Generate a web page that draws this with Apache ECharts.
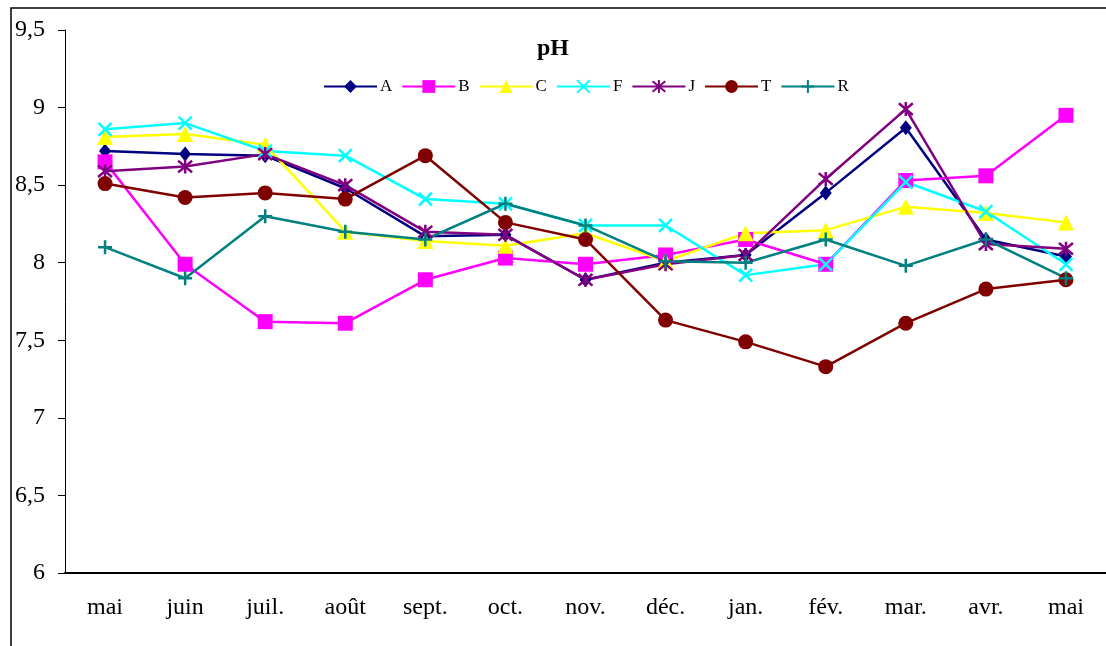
<!DOCTYPE html>
<html>
<head>
<meta charset="utf-8">
<script src="https://cdn.jsdelivr.net/npm/echarts@6/dist/echarts.min.js"></script>
<style>
  html, body { margin: 0; padding: 0; background: #fff; }
  #chart { width: 1106px; height: 646px; }
</style>
</head>
<body>
<div id="chart"></div>
<script>
// months, mai -> mai
const months = ['mai', 'juin', 'juil.', 'août', 'sept.', 'oct.', 'nov.', 'déc.', 'jan.', 'fév.', 'mar.', 'avr.', 'mai']
const yTicks = [6, 6.5, 7, 7.5, 8, 8.5, 9, 9.5]

const phA = [8.72, 8.70, 8.69, 8.48, 8.17, 8.18, 7.89, 8.00, 8.05, 8.45, 8.87, 8.15, 8.04]
const phB = [8.65, 7.99, 7.62, 7.61, 7.89, 8.03, 7.99, 8.05, 8.15, 7.99, 8.53, 8.56, 8.95]
const phC = [8.81, 8.83, 8.76, 8.20, 8.14, 8.11, 8.19, 8.01, 8.19, 8.21, 8.36, 8.32, 8.26]
const phF = [8.86, 8.90, 8.72, 8.69, 8.41, 8.38, 8.24, 8.24, 7.92, 7.99, 8.52, 8.33, 7.99]
const phJ = [8.59, 8.62, 8.70, 8.50, 8.20, 8.18, 7.89, 7.99, 8.05, 8.54, 8.99, 8.12, 8.09]
const phT = [8.51, 8.42, 8.45, 8.41, 8.69, 8.26, 8.15, 7.63, 7.49, 7.33, 7.61, 7.83, 7.89]
const phR = [8.10, 7.90, 8.30, 8.20, 8.15, 8.38, 8.24, 8.01, 8.00, 8.15, 7.98, 8.15, 7.90]

const serif = 'Liberation Serif'
const SYM_X = 'path://M0,0L10,10M10,0L0,10'
const SYM_PLUS = 'path://M5,0L5,10M0,5L10,5'
const SYM_STAR = 'path://M0,0L10,10M10,0L0,10M5,-1L5,11'

function makeSeries(name, data, color, symbol, size, stroked) {
  return {
    name: name,
    type: 'line',
    data: data,
    symbol: symbol,
    symbolSize: size,
    showAllSymbol: true,
    animation: false,
    lineStyle: { color: color, width: 2.5 },
    itemStyle: stroked
      ? { color: color, borderColor: color, borderWidth: 2.5 }
      : { color: color, borderWidth: 0 }
  }
}

const chart = echarts.init(document.getElementById('chart'))
chart.setOption({
  backgroundColor: '#fff',
  title: {
    text: 'pH',
    left: 'center',
    top: 32,
    textStyle: { fontFamily: serif, fontSize: 24, fontWeight: 'bold', color: '#000' }
  },
  legend: {
    top: 73,
    left: 318,
    itemWidth: 53,
    itemHeight: 16,
    itemGap: 9,
    textStyle: { fontFamily: serif, fontSize: 17, color: '#000', padding: [0, 0, 0, -2] },
    data: ['A', 'B', 'C', 'F', 'J', 'T', 'R']
  },
  graphic: [{
    type: 'rect',
    shape: { x: 11, y: 8, width: 1200, height: 700 },
    style: { fill: 'none', stroke: '#000', lineWidth: 1.5 },
    silent: true
  }],
  grid: { left: 65, top: 30, width: 1056, height: 543 },
  xAxis: {
    type: 'category',
    data: months,
    boundaryGap: true,
    axisLine: { lineStyle: { color: '#000', width: 2 } },
    axisTick: { length: 7, lineStyle: { color: '#000' } },
    axisLabel: { fontFamily: serif, fontSize: 24, color: '#000', margin: 23 }
  },
  yAxis: {
    type: 'value',
    min: yTicks[0],
    max: yTicks[yTicks.length - 1],
    interval: 0.5,
    splitLine: { show: false },
    axisLine: { show: true, lineStyle: { color: '#000', width: 1 } },
    axisTick: { show: true, length: 7, lineStyle: { color: '#000' } },
    axisLabel: {
      fontFamily: serif, fontSize: 24, color: '#000', margin: 20,
      formatter: v => String(v).replace('.', ',')
    }
  },
  series: [
    makeSeries('A', phA, '#000080', 'diamond', [12, 15], false),
    makeSeries('B', phB, '#ff00ff', 'rect', 15, false),
    makeSeries('C', phC, '#ffff00', 'triangle', 16, false),
    makeSeries('F', phF, '#00ffff', SYM_X, 13, true),
    makeSeries('J', phJ, '#800080', SYM_STAR, 14, true),
    makeSeries('T', phT, '#800000', 'circle', 15, false),
    makeSeries('R', phR, '#008080', SYM_PLUS, 14, true)
  ]
})
</script>
</body>
</html>
